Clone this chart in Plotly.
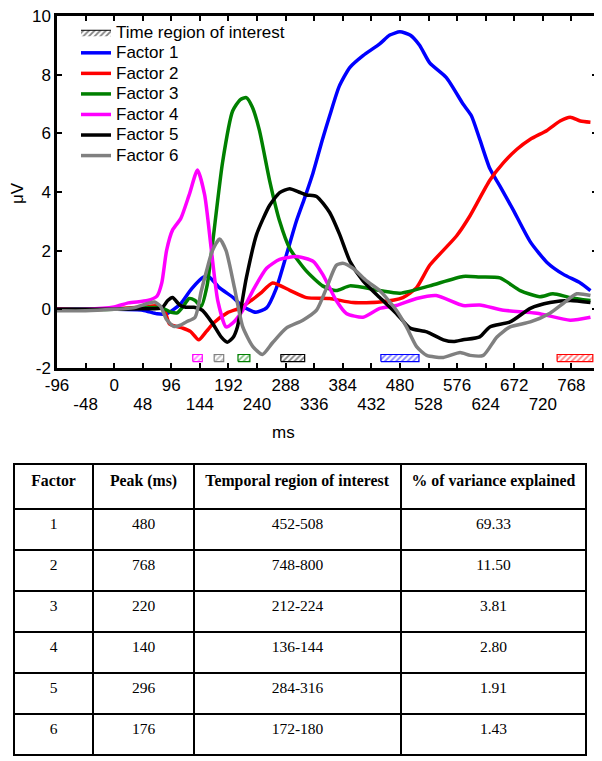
import plotly.graph_objects as go

# page body adds an 8px margin, so the figure is sized to fill the rest of the window
OFF = 8
W, H = 602 - OFF, 761 - OFF


def px(x):
    return (x - OFF) / W


def py(y):
    return 1 - (y - OFF) / H


# ---------------- data ----------------
t1 = [-96, -48, 0, 48, 72, 88, 100, 112, 130, 150, 160, 176, 200, 216, 238, 256, 272, 290, 306, 320, 334, 350, 362,
      378, 396, 418, 446, 463, 480, 497, 513, 530, 558, 586, 600, 614, 631, 648, 670, 699, 727, 754, 783, 800]
v1 = [0, 0, 0, -0.03, -0.15, -0.15, 0.0, 0.2, 0.7, 1.1, 1.1, 0.75, 0.4, 0.1, -0.1, 0.05, 0.7, 1.9, 3.0, 3.8, 4.65, 5.8, 6.6,
      7.6, 8.25, 8.65, 9.05, 9.35, 9.46, 9.35, 9.0, 8.4, 7.9, 7.0, 6.6, 5.8, 4.8, 4.2, 3.4, 2.3, 1.6, 1.2, 0.9, 0.64]

t2 = [-96, -48, 0, 48, 72, 84, 93, 115, 128, 142, 155, 168, 190, 212, 230, 246, 266, 295, 323, 362, 401, 446, 485,
      508, 530, 575, 598, 631, 654, 676, 699, 727, 749, 766, 783, 800]
v2 = [0.02, -0.02, 0.02, 0.08, 0.12, 0.0, -0.5, -0.64, -0.75, -1.04, -0.75, -0.45, -0.12, 0.05, 0.3, 0.55, 0.9, 0.65, 0.4,
      0.37, 0.23, 0.25, 0.4, 0.74, 1.5, 2.5, 3.2, 4.4, 5.0, 5.45, 5.8, 6.1, 6.42, 6.55, 6.42, 6.38]

t3 = [-96, -48, 0, 48, 80, 96, 106, 116, 126, 136, 146, 156, 165, 182, 199, 212, 222, 232, 244, 261, 278, 295, 323,
      350, 373, 396, 446, 480, 530, 586, 614, 648, 682, 715, 737, 766, 800]
v3 = [0, 0, 0, 0.05, 0.05, -0.1, -0.12, 0.1, 0.37, 0.3, 0.1, 0.8, 2.2, 5.0, 6.76, 7.15, 7.22, 6.9, 6.1, 4.4, 3.0, 2.07, 1.3,
      0.8, 0.64, 0.8, 0.64, 0.55, 0.8, 1.12, 1.1, 1.07, 0.64, 0.43, 0.53, 0.4, 0.3]

t4 = [-96, -48, 0, 24, 56, 72, 80, 88, 98, 112, 126, 140, 152, 163, 174, 188, 199, 216, 233, 256, 278, 306, 334, 350,
      373, 390, 418, 446, 474, 508, 541, 586, 614, 654, 710, 766, 800]
v4 = [0, 0, 0.08, 0.22, 0.3, 0.45, 0.9, 2.0, 2.7, 3.1, 3.9, 4.75, 3.9, 2.07, 0.3, -0.6, -0.47, -0.03, 0.64, 1.4, 1.7, 1.8,
      1.64, 1.2, 0.3, -0.14, -0.27, 0.03, 0.13, 0.37, 0.47, 0.13, 0.15, -0.03, -0.13, -0.37, -0.27]

t5 = [-96, -48, 0, 48, 80, 90, 98, 110, 120, 134, 148, 165, 180, 190, 200, 207, 222, 239, 261, 278, 295, 310, 323, 340,
      362, 379, 396, 418, 446, 474, 497, 525, 553, 570, 586, 614, 631, 665, 699, 732, 766, 800]
v5 = [0, 0, 0, 0.02, 0.05, 0.3, 0.4, 0.15, 0.07, 0.07, -0.03, -0.47, -0.95, -1.12, -0.95, -0.6, 1.07, 2.54, 3.54, 3.98,
      4.11, 4.0, 3.9, 3.85, 3.3, 2.54, 1.64, 0.97, 0.4, -0.14, -0.64, -0.77, -1.04, -1.1, -1.04, -0.94, -0.6, -0.43, 0.03,
      0.23, 0.3, 0.23]

t6 = [-96, -48, 0, 32, 56, 68, 78, 88, 100, 110, 121, 136, 146, 155, 165, 177, 188, 202, 216, 233, 249, 266, 289, 317,
      340, 357, 373, 384, 401, 424, 446, 474, 491, 508, 525, 553, 581, 598, 620, 643, 665, 699, 732, 754, 777, 800]
v6 = [-0.05, -0.05, 0, 0.05, 0.2, 0.25, 0.1, -0.35, -0.58, -0.55, -0.43, -0.27, 0.6, 1.3, 2.0, 2.4, 2.0, 0.74, -0.6,
      -1.27, -1.54, -1.14, -0.64, -0.37, -0.03, 0.74, 1.5, 1.57, 1.4, 0.97, 0.64, -0.03, -0.6, -1.27, -1.57, -1.64, -1.47,
      -1.57, -1.57, -0.94, -0.6, -0.43, -0.13, 0.2, 0.53, 0.47]

factor_names = ["Factor 1", "Factor 2", "Factor 3", "Factor 4", "Factor 5", "Factor 6"]
factor_ids = ["1", "2", "3", "4", "5", "6"]
peak_ms = ["480", "768", "220", "140", "296", "176"]
region_start = [452, 748, 212, 136, 284, 172]
region_end = [508, 800, 224, 144, 316, 180]
variance = ["69.33", "11.50", "3.81", "2.80", "1.91", "1.43"]

x_ticks = [-96, -48, 0, 48, 96, 144, 192, 240, 288, 336, 384, 432, 480, 528, 576, 624, 672, 720, 768]
y_ticks = [-2, 0, 2, 4, 6, 8, 10]

# ---------------- style ----------------
colors = ["#0000ff", "#ff0000", "#008000", "#ff00ff", "#000000", "#808080"]
series_t = [t1, t2, t3, t4, t5, t6]
series_v = [v1, v2, v3, v4, v5, v6]

X0, X1 = 57, 597      # plot area in window pixels
Y0, Y1 = 16, 368
FONT = "Liberation Sans, Arial, sans-serif"
SERIF = "Liberation Serif, Times New Roman, serif"


def big(s):
    return f'<span style="font-size:17px">{s}</span>'


fig = go.Figure()

# legend entry for regions of interest
fig.add_trace(go.Scatter(
    x=[None], y=[None], mode="lines", fill="toself", name=big("Time region of interest"),
    line=dict(color="black", width=1),
    fillpattern=dict(shape="/", fgcolor="black", bgcolor="white", size=4, solidity=0.45),
    fillcolor="white"))

for name, tt, vv, c in zip(factor_names, series_t, series_v, colors):
    fig.add_trace(go.Scatter(x=tt, y=vv, mode="lines", name=big(name),
                             line=dict(color=c, width=3.5, shape="spline", smoothing=0.6)))

# region boxes
pad = 4
yb, yt = -1.78, -1.54
for s, e, c in zip(region_start, region_end, colors):
    a, b = s - pad, e + pad
    fig.add_trace(go.Scatter(
        x=[a, b, b, a, a], y=[yb, yb, yt, yt, yb], mode="lines", fill="toself",
        line=dict(color=c, width=1.2), fillcolor="white",
        fillpattern=dict(shape="/", fgcolor=c, bgcolor="white", size=4, solidity=0.45),
        showlegend=False, hoverinfo="skip"))


def lab(v):
    return ("-" if v < 0 else "") + str(abs(v))


x_text = [big(lab(v)) if i % 2 == 0 else "<br>" + big(lab(v)) for i, v in enumerate(x_ticks)]
y_text = [lab(v) for v in y_ticks]

fig.update_layout(
    width=W, height=H, autosize=False,
    margin=dict(l=0, r=0, t=0, b=0, pad=0),
    paper_bgcolor="white", plot_bgcolor="white",
    font=dict(family=FONT, size=17, color="black"),
    showlegend=True,
    legend=dict(x=px(76), y=py(17), xanchor="left", yanchor="top",
                bgcolor="rgba(0,0,0,0)", font=dict(size=13.5), tracegroupgap=0,
                itemwidth=30),
    xaxis=dict(domain=[px(X0), px(X1)], range=[-96, 811], tickvals=x_ticks, ticktext=x_text,
               tickangle=0, automargin=False, ticklabelstandoff=2, ticklabeloverflow="allow",
               showline=True, mirror="ticks", linecolor="black", linewidth=2.5,
               ticks="inside", ticklen=5, tickwidth=1.5, tickcolor="black",
               showgrid=False, zeroline=False, tickfont=dict(size=14.8)),
    yaxis=dict(domain=[py(Y1), py(Y0)], range=[-2, 10], tickvals=y_ticks, ticktext=y_text,
               automargin=False, ticklabeloverflow="allow",
               showline=True, mirror="ticks", linecolor="black", linewidth=2.5,
               ticks="inside", ticklen=5, tickwidth=1.5, tickcolor="black",
               showgrid=False, zeroline=False, tickfont=dict(size=17)),
    annotations=[
        dict(text="ms", x=px(283), y=py(432), xref="paper", yref="paper", showarrow=False,
             xanchor="center", yanchor="middle", font=dict(size=17)),
        dict(text="μV", x=px(17), y=py(193), xref="paper", yref="paper", showarrow=False,
             xanchor="center", yanchor="middle", textangle=-90, font=dict(size=17)),
    ],
)

# table
region_txt = [f"{s}-{e}" for s, e in zip(region_start, region_end)]
fig.add_trace(go.Table(
    domain=dict(x=[px(14), px(586)], y=[0, py(464)]),
    columnwidth=[79, 101, 207, 185],
    header=dict(values=["<b>Factor</b>", "<b>Peak (ms)</b>", "<b>Temporal region of interest</b>",
                        "<b>% of variance explained</b>"],
                align="center", height=45, fill=dict(color="white"),
                line=dict(color="black", width=2),
                font=dict(family=SERIF, size=15.8, color="black")),
    cells=dict(values=[factor_ids, peak_ms, region_txt, variance],
               align="center", height=41, fill=dict(color="white"),
               line=dict(color="black", width=2),
               font=dict(family=SERIF, size=15.5, color="black")),
))

fig.write_html("out.html")
